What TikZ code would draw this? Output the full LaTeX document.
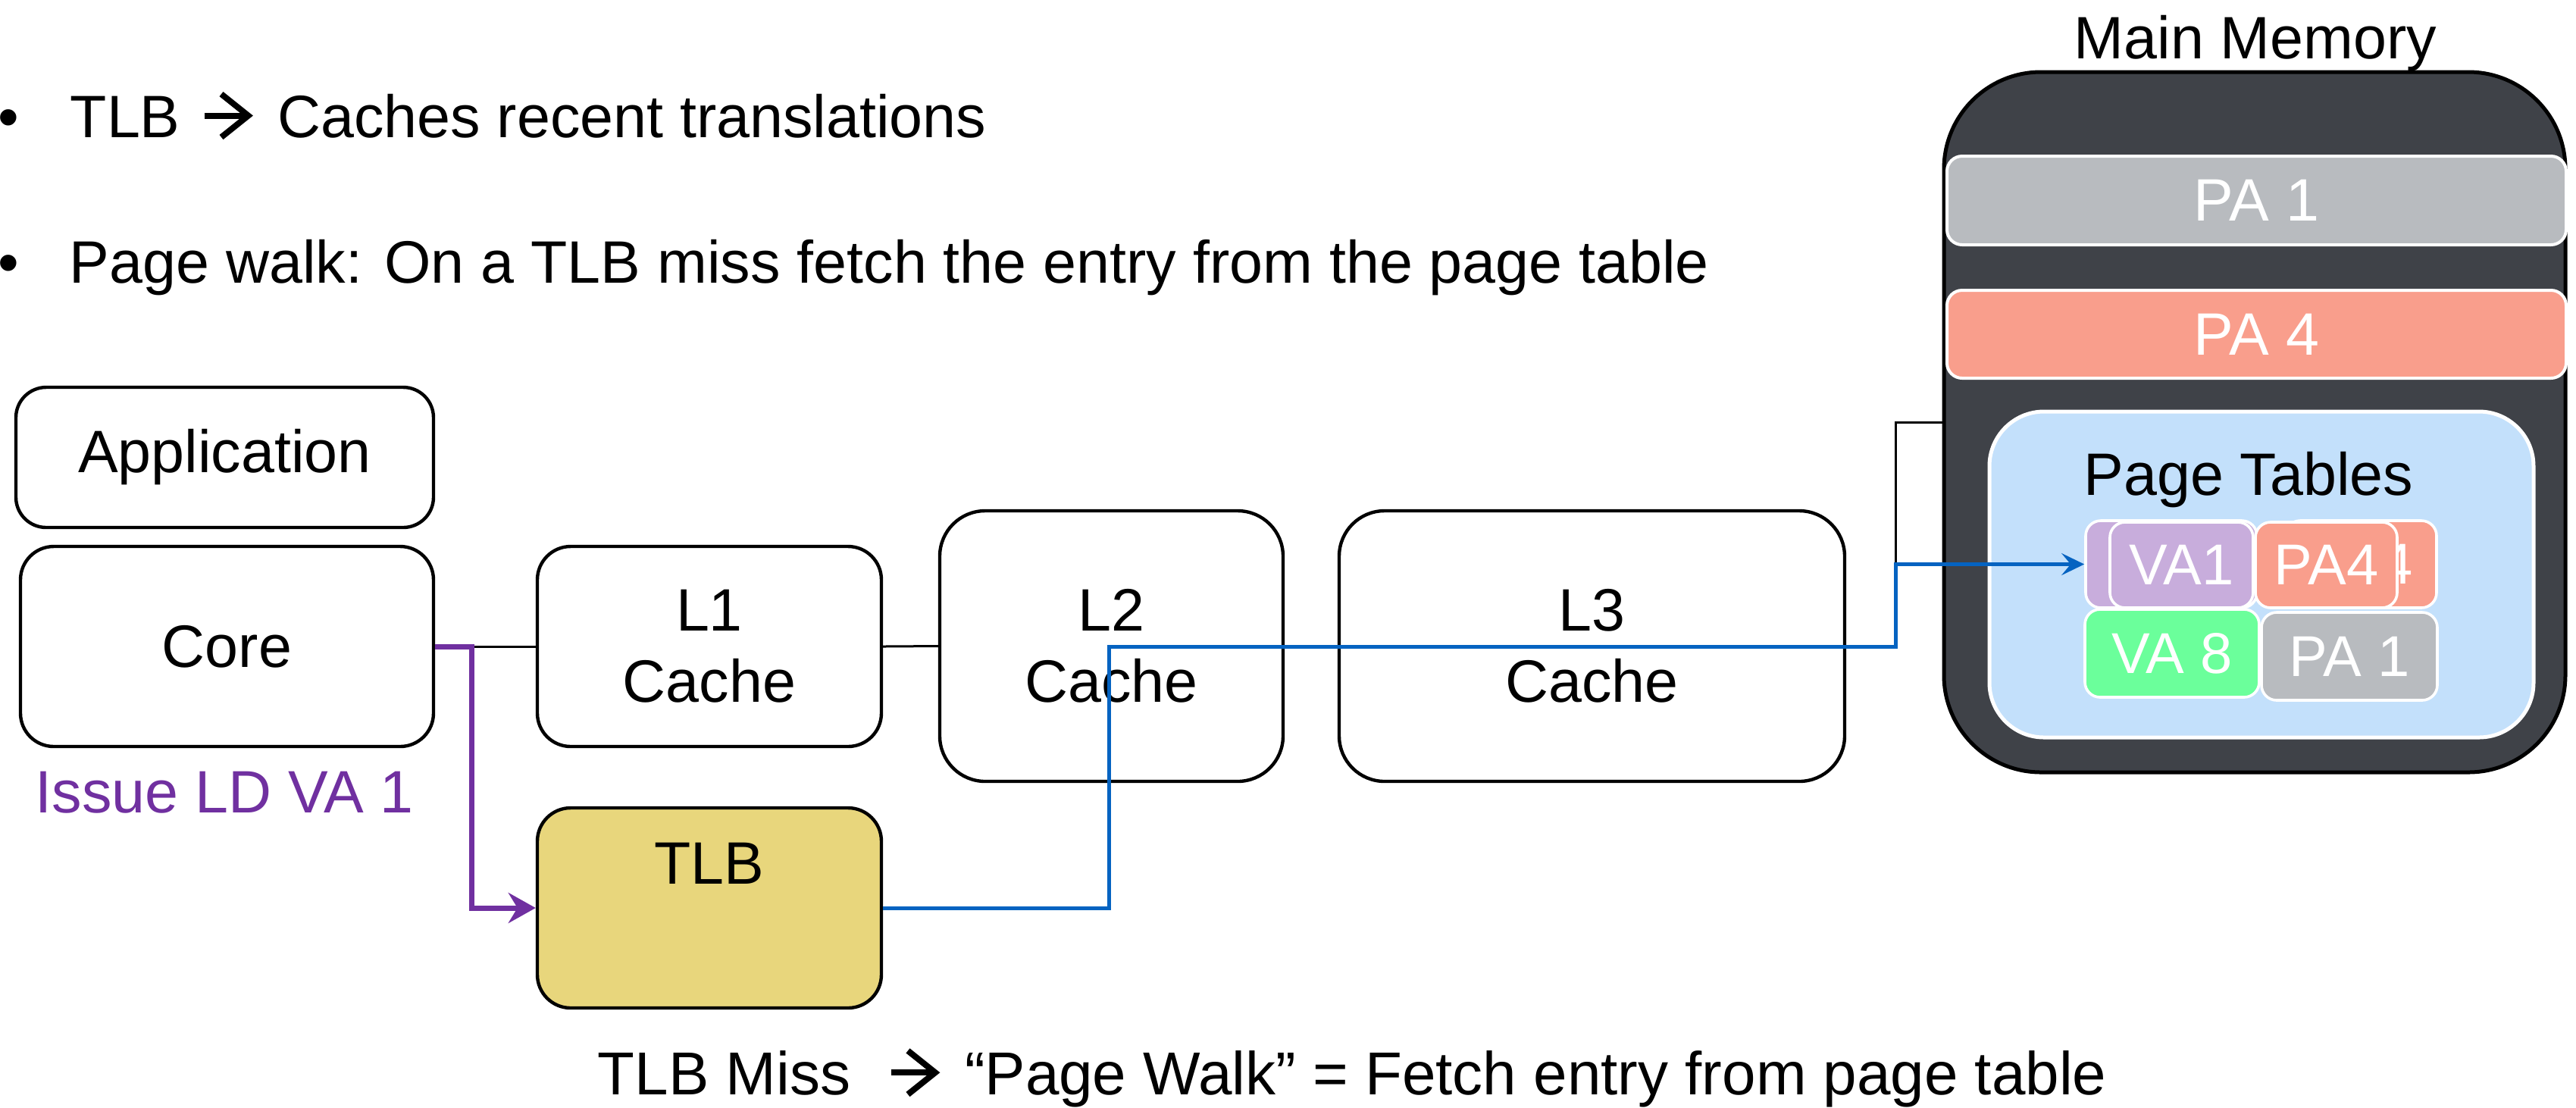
\documentclass[tikz,border=0pt]{standalone}
\usepackage{fontspec}
\setmainfont{Liberation Sans}
\usetikzlibrary{arrows.meta}
\definecolor{mmdark}{HTML}{3F4248}
\definecolor{tlbgold}{HTML}{E8D67C}
\definecolor{pagray}{HTML}{B8BBBF}
\definecolor{pasalmon}{HTML}{F99E8C}
\definecolor{ptblue}{HTML}{C3E0FB}
\definecolor{valav}{HTML}{C8ADDC}
\definecolor{vagreen}{HTML}{6BFF9B}
\definecolor{walkblue}{HTML}{0563C1}
\definecolor{issuepurple}{HTML}{7030A0}
\newcommand\fsmain{\fontsize{19.75pt}{23.5pt}\selectfont}
\newcommand\fsentry{\fontsize{19pt}{22pt}\selectfont}
\newcommand\warr{\tikz[baseline=0pt,x=1em,y=1em,line width=0.1em,line join=miter,line cap=butt]{\useasboundingbox (-0.13,0) rectangle (0.94,0.72); \draw (0,0.36) -- (0.7,0.36); \draw (0.28,0.72) -- (0.73,0.36) -- (0.28,0);}}
\begin{document}
\begin{tikzpicture}[x=0.25pt,y=-0.25pt,
  box/.style={draw=black, line width=1.1pt, fill=white, inner sep=0pt, font=\fsmain, align=center},
  bar/.style={draw=white, line width=1pt, inner sep=0pt, rounded corners=5pt, font=\fsmain, text=white},
  entry/.style={draw=white, line width=0.9pt, inner sep=0pt, rounded corners=5pt, font=\fsentry, text=white},
  txt/.style={inner sep=0pt, font=\fsmain},
  link/.style={draw=black, line width=0.75pt},
  walk/.style={draw=walkblue, line width=1.25pt, -{Stealth[length=7.5pt, width=7.25pt, inset=3pt]}},
  issue/.style={draw=issuepurple, line width=1.75pt, -{Stealth[length=9pt, width=10pt, inset=3pt]}}
]
\useasboundingbox (0,0) rectangle (3399,1461);

% bullet text
\node[txt, anchor=base] (d1) at (11,181) {•};
\node[txt, anchor=base west] (b1) at (92,181) {TLB \warr{} Caches recent translations};
\node[txt, anchor=base] (d2) at (11,373) {•};
\node[txt, anchor=base west] (b2) at (91,373) {Page walk: On a TLB miss fetch the entry from the page table};

% left boxes
\node[box, rounded corners=10pt, minimum width=137.75pt, minimum height=46.25pt] (app) at (296.5,603.5) {Application};
\node[box, rounded corners=11pt, minimum width=136.25pt, minimum height=66pt] (core) at (299.5,853) {Core};
\node[box, rounded corners=11pt, minimum width=113.5pt, minimum height=66pt] (l1) at (936,853) {L1\\Cache};
\node[box, rounded corners=15pt, minimum width=113.25pt, minimum height=89.25pt] (l2) at (1466.5,852.5) {L2\\Cache};
\node[box, rounded corners=15pt, minimum width=166.75pt, minimum height=89.25pt] (l3) at (2100.5,852.5) {L3\\Cache};
\node[box, rounded corners=11pt, fill=tlbgold, minimum width=113.5pt, minimum height=66pt] (tlb) at (936,1198) {};
\node[txt, anchor=base] (tlbt) at (936,1166) {TLB};
\node[txt, anchor=base west, text=issuepurple] (iss) at (46,1072) {Issue LD VA 1};

% main memory
\node[txt, anchor=base] (mmt) at (2976,77) {Main Memory};
\node[draw=black, line width=1.25pt, fill=mmdark, rounded corners=32pt, inner sep=0pt, minimum width=205pt, minimum height=231pt] (mm) at (2975,557) {};
\node[bar, fill=pagray, minimum width=204.25pt, minimum height=29.25pt] (pa1) at (2977.5,264.5) {PA 1};
\node[bar, fill=pasalmon, minimum width=204.25pt, minimum height=29pt] (pa4) at (2977.5,441) {PA 4};
\node[draw=white, line width=1.25pt, fill=ptblue, rounded corners=18pt, inner sep=0pt, minimum width=179.5pt, minimum height=107.5pt] (pt) at (2984,758) {};
\node[txt, anchor=base] (ptt) at (2967,653) {Page Tables};

% page table entries
\node[entry, fill=valav, minimum width=56.5pt, minimum height=28.75pt] (bva) at (2865,744.5) {};
\node[entry, fill=pasalmon, minimum width=50pt, minimum height=28.75pt] (bpa) at (3115,744.5) {PA4};
\node[entry, fill=valav, minimum width=47.25pt, minimum height=28.25pt] (va1) at (2878.5,745.5) {VA1};
\node[entry, fill=pasalmon, minimum width=46.75pt, minimum height=28.25pt] (pa4e) at (3069.5,745.5) {PA4};
\node[entry, fill=vagreen, minimum width=57.5pt, minimum height=29pt] (va8) at (2866,862) {VA 8};
\node[entry, fill=pagray, minimum width=58pt, minimum height=29pt] (pa1e) at (3100,866) {PA 1};

% connectors
\coordinate (pj) at (622,0);
\coordinate (bx1) at (1463,853);
\coordinate (bx2) at (2501,0);
\draw[link] (core.east) -- (l1.west);
\draw[link] (l1.east) -- (l2.west);
\draw[link] (l3.east) -- (l3.east -| bx2) |- (mm.west);
\draw[issue] (core.east) -- (core.east -| pj) |- (tlb.west);
\draw[walk] (tlb.east) -| (bx1) -- (bx1 -| bx2) |- (bva.west);

% bottom caption
\node[txt, anchor=base west, font=\fontsize{20pt}{24pt}\selectfont] (cap) at (788,1444) {TLB Miss\hspace{0.26em} \warr{} “Page Walk” = Fetch entry from page table};
\end{tikzpicture}
\end{document}
